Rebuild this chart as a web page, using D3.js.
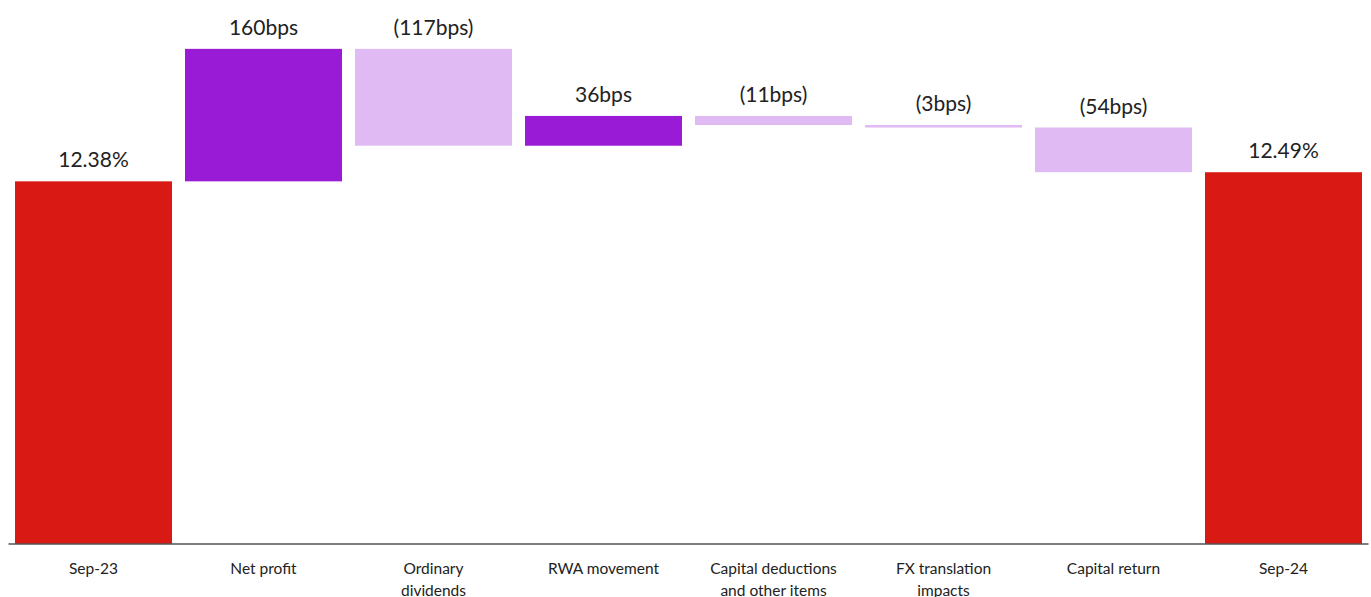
<!DOCTYPE html>
<html><head><meta charset="utf-8">
<script src="https://cdn.jsdelivr.net/npm/d3@7"></script>
<style>body{margin:0;background:#fff;} svg{display:block;}</style>
</head><body>
<svg id="c" width="1371" height="597"></svg>
<script>
const categories = ["Sep-23","Net profit","Ordinary dividends","RWA movement","Capital deductions and other items","FX translation impacts","Capital return","Sep-24"];
const categoryLines = [["Sep-23"],["Net profit"],["Ordinary","dividends"],["RWA movement"],["Capital deductions","and other items"],["FX translation","impacts"],["Capital return"],["Sep-24"]];
const values = [12.38, 1.60, -1.17, 0.36, -0.11, -0.03, -0.54, 12.49];
const kinds = ["total","step","step","step","step","step","step","total"];
const valueLabels = ["12.38%","160bps","(117bps)","36bps","(11bps)","(3bps)","(54bps)","12.49%"];

const colors = {total:"#d91a14", up:"#9a1bd6", down:"#e0bbf3"};
const svg = d3.select("#c");
const x = d3.scaleBand().domain(categories).range([8.5,1368.5]).paddingInner(13/170).paddingOuter(6.5/170);
const y = d3.scaleLinear().domain([8,14.5]).range([544,544-6.5*82.8]);

let run = 0;
const bars = categories.map((c,i)=>{
  let y0,y1,col;
  if(kinds[i]==="total"){ y0=y.domain()[0]; y1=values[i]; run=values[i]; col=colors.total; }
  else { y0=run; y1=run+values[i]; run=y1; col=values[i]>=0?colors.up:colors.down; }
  return {c, lo:Math.min(y0,y1), hi:Math.max(y0,y1), col, label:valueLabels[i], lines:categoryLines[i]};
});

svg.selectAll("rect.bar").data(bars).join("rect").attr("class","bar")
  .attr("x",d=>x(d.c)).attr("width",x.bandwidth())
  .attr("y",d=>y(d.hi)).attr("height",d=>Math.max(2.5,y(d.lo)-y(d.hi)))
  .attr("fill",d=>d.col);

svg.selectAll("text.val").data(bars).join("text").attr("class","val")
  .attr("x",d=>x(d.c)+x.bandwidth()/2).attr("y",d=>y(d.hi)-14)
  .attr("text-anchor","middle").attr("font-family","Lato, sans-serif").attr("font-size",21)
  .attr("fill","#222").text(d=>d.label);

const axis = svg.append("g").attr("transform","translate(0,544)")
  .call(d3.axisBottom(x).tickSize(0).tickFormat(""));
axis.select(".domain").attr("stroke","#555").attr("stroke-width",1.5).attr("d","M8.5,0H1368.5");

const lab = svg.selectAll("text.cat").data(bars).join("text").attr("class","cat")
  .attr("text-anchor","middle").attr("font-family","Lato, sans-serif").attr("font-size",15.5)
  .attr("fill","#222");
lab.selectAll("tspan").data(d=>d.lines.map(l=>({l,cx:x(d.c)+x.bandwidth()/2}))).join("tspan")
  .attr("x",d=>d.cx).attr("y",(d,i)=>574+i*22).text(d=>d.l);
</script>
</body></html>
